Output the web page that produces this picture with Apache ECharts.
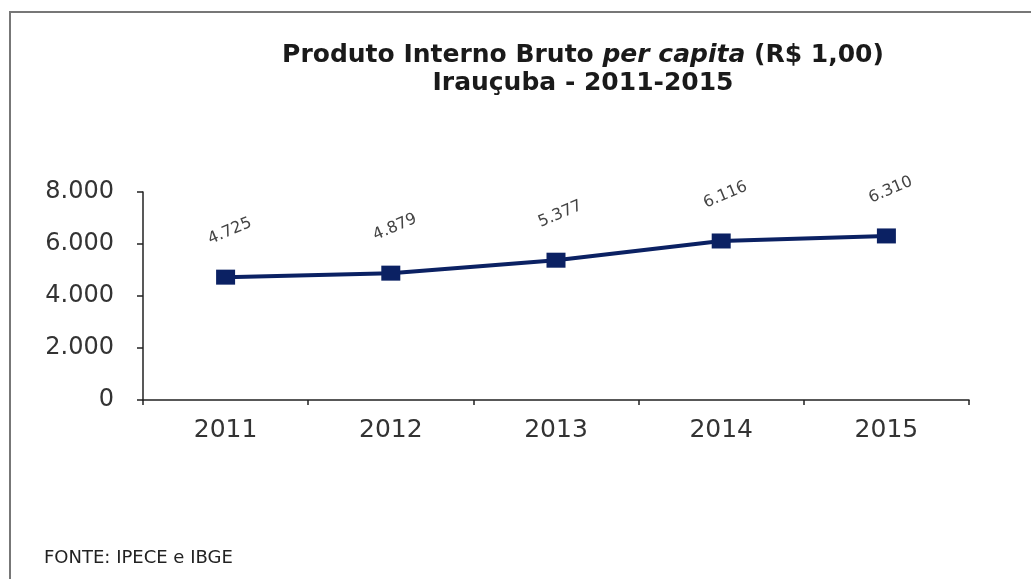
<!DOCTYPE html>
<html><head><meta charset="utf-8">
<script src="https://cdn.jsdelivr.net/npm/echarts@6/dist/echarts.min.js"></script>
<style>html,body{margin:0;padding:0;background:#fff}#c{width:1031px;height:579px}</style>
</head><body><div id="c"></div>
<script>
const categories = ['2011','2012','2013','2014','2015'];
const values = [4725, 4879, 5377, 6116, 6310];
const yTicks = [0, 2000, 4000, 6000, 8000];
const fmt = v => String(v).replace(/\B(?=(\d{3})+(?!\d))/g, '.');
const FONT = '"DejaVu Sans", "Liberation Sans", Arial';
const chart = echarts.init(document.getElementById('c'));
chart.setOption({
  backgroundColor: '#fff',
  animation: false,
  graphic: [
    {type:'polyline', shape:{points:[[10,600],[10,12],[1040,12]]}, style:{stroke:'#777', lineWidth:2, fill:null}},
    {type:'text', left:44, top:549, style:{text:'FONTE: IPECE e IBGE', font:'18px "DejaVu Sans", Arial', fill:'#222'}}
  ],
  title: {
    text: '{b|Produto Interno Bruto }{i|per capita}{b| (R$ 1,00)}\n{b|Irauçuba - 2011-2015}',
    left: 578, top: 36, textAlign: 'center',
    textStyle: {
      rich: {
        b: {fontFamily:FONT, fontWeight:'bold', fontSize:25, color:'#1a1a1a', lineHeight:28},
        i: {fontFamily:FONT, fontWeight:'bold', fontStyle:'italic', fontSize:25, color:'#1a1a1a', lineHeight:28}
      }
    }
  },
  grid: {left:143, right:62, top:192, bottom:179},
  xAxis: {
    type:'category', data:categories, boundaryGap:true,
    axisLine:{lineStyle:{color:'#222', width:1.5}},
    axisTick:{show:true, length:5, inside:false, lineStyle:{color:'#222', width:1.5}},
    axisLabel:{fontFamily:FONT, fontSize:25, color:'#333', margin:18}
  },
  yAxis: {
    type:'value', min:0, max:8000, interval:2000,
    axisLine:{show:true, lineStyle:{color:'#222', width:1.5}},
    axisTick:{show:true, length:6, lineStyle:{color:'#222', width:1.5}},
    splitLine:{show:false},
    axisLabel:{fontFamily:FONT, fontSize:24, color:'#333', margin:29,
      formatter: v => yTicks.includes(v) ? fmt(v) : ''}
  },
  series: [{
    type:'line', data:values,
    symbol:'rect', symbolSize:[19,15],
    lineStyle:{color:'#0b2163', width:4},
    itemStyle:{color:'#0b2163'},
    label:{show:true, position:'top', distance:28, rotate:23, offset:[8,0],
      fontFamily:FONT, fontSize:16, color:'#444',
      formatter: p => fmt(p.value)}
  }]
});
</script></body></html>
